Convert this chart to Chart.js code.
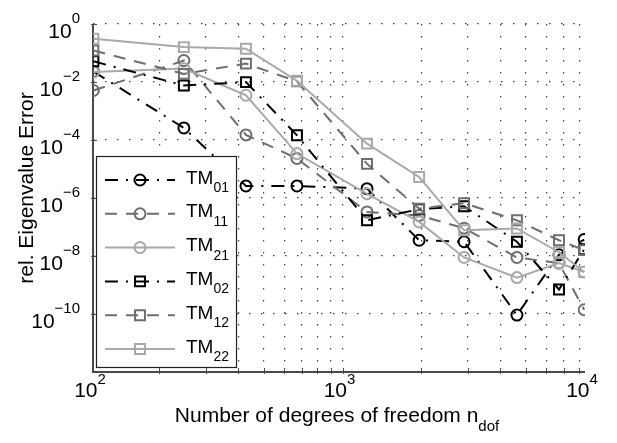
<!DOCTYPE html>
<html>
<head>
<meta charset="utf-8">
<script src="https://cdn.jsdelivr.net/npm/chart.js@4.4.1/dist/chart.umd.min.js"></script>
<style>
  html, body { margin: 0; padding: 0; background: #ffffff; }
  #wrap { width: 617px; height: 443px; position: relative; }
</style>
</head>
<body>
<div id="wrap"><canvas id="c" width="617" height="443"></canvas></div>
<script>
// Number of degrees of freedom of each refinement step
const ndof = [112, 248, 428, 670, 1240, 1960, 2910, 4630, 6700, 8360];

// Relative eigenvalue error per mode
const errTM01 = [2.3e-2, 2.6e-4, 2.6e-6, 2.6e-6, 2.1e-6, 3.5e-8, 3.1e-8, 9.2e-11, 1.1e-8, 3.7e-8];
const errTM11 = [5.1e-3, 5.5e-2, 1.5e-4, 2.3e-5, 3.3e-7, 2.5e-7, 9.1e-8, 8.9e-9, 5.7e-9, 1.4e-10];
const errTM21 = [2.2e-2, 2.9e-2, 3.5e-3, 3.4e-5, 1.4e-6, 1.5e-7, 8.9e-9, 1.8e-9, 5.7e-9, 2.8e-9];
const errTM02 = [5.2e-2, 7.6e-3, 9.9e-3, 1.45e-4, 1.7e-7, 4.1e-7, 5.2e-7, 3.1e-8, 7.0e-10, 1.7e-8];
const errTM12 = [0.122, 1.9e-2, 4.3e-2, 1.05e-2, 1.5e-5, 4.3e-7, 6.6e-7, 1.7e-7, 3.5e-8, 1.6e-8];
const errTM22 = [0.31, 0.16, 0.14, 1.1e-2, 7.5e-5, 5.3e-6, 7.7e-8, 8.9e-8, 1.35e-8, 2.8e-9];

// Mode indices shown as subscripts of "TM"
const modeIndices = ['01', '11', '21', '02', '12', '22'];

// Axis extents, grid positions and tick labels
const X_MIN = 111.6;
const X_MAX = 8420;
const xGridValues = [200, 300, 400, 500, 600, 700, 800, 900, 1000, 2000, 3000, 4000, 5000, 6000, 7000, 8000];
const xTickLabels = [{ value: X_MIN, exp: '2' }, { value: 1000, exp: '3' }, { value: X_MAX, exp: '4' }];
const Y_MIN = 1e-12;
const Y_MAX = 1;
const yGridValues = [1e0, 1e-2, 1e-4, 1e-6, 1e-8, 1e-10];
const yTickExponents = ['0', '\u22122', '\u22124', '\u22126', '\u22128', '\u221210'];

const xTitle = 'Number of degrees of freedom n';
const xTitleSub = 'dof';
const yTitle = 'rel. Eigenvalue Error';

// Styles
const BLACK = '#000000';
const DARK = '#6e6e6e';
const LIGHT = '#a9a9a9';
const DASHDOT = [13, 8, 2, 8];
const DASHED = [12, 9];
const seriesStyles = [
  { color: BLACK, dash: DASHDOT, point: 'circle' },
  { color: DARK,  dash: DASHED,  point: 'circle' },
  { color: LIGHT, dash: [],      point: 'circle' },
  { color: BLACK, dash: DASHDOT, point: 'rect' },
  { color: DARK,  dash: DASHED,  point: 'rect' },
  { color: LIGHT, dash: [],      point: 'rect' }
];
const seriesValues = [errTM01, errTM11, errTM21, errTM02, errTM12, errTM22];
const FONT = '"Liberation Sans", Arial, Helvetica, sans-serif';
const AXIS_COLOR = '#4a4a4a';

const pointRadius = s => (s.point === 'rect' ? 7 : 5.5);

const datasets = seriesValues.map((vals, i) => {
  const st = seriesStyles[i];
  return {
    label: 'TM' + modeIndices[i],
    data: ndof.map((n, k) => ({ x: n, y: vals[k] })),
    borderColor: st.color,
    borderWidth: 2,
    borderDash: st.dash,
    tension: 0,
    fill: false,
    pointStyle: st.point,
    pointRadius: pointRadius(st),
    pointBorderWidth: 2,
    pointBorderColor: st.color,
    pointBackgroundColor: 'rgba(0,0,0,0)',
    order: seriesValues.length - i
  };
});

function drawMarker(ctx, style, x, y) {
  const r = pointRadius(style);
  ctx.save();
  ctx.setLineDash([]);
  ctx.lineWidth = 2;
  ctx.strokeStyle = style.color;
  ctx.beginPath();
  if (style.point === 'rect') {
    const h = r * Math.SQRT1_2;
    ctx.rect(x - h, y - h, 2 * h, 2 * h);
  } else {
    ctx.arc(x, y, r, 0, Math.PI * 2);
  }
  ctx.stroke();
  ctx.restore();
}

// Text with a raised or lowered smaller part, e.g. 10^-4 or TM_01
function drawScripted(ctx, base, script, x, baseline, baseSize, scriptSize, shift, align) {
  ctx.font = baseSize + 'px ' + FONT;
  const wb = ctx.measureText(base).width;
  ctx.font = scriptSize + 'px ' + FONT;
  const ws = ctx.measureText(script).width;
  let x0 = x;
  if (align === 'center') x0 = x - (wb + ws) / 2;
  else if (align === 'right') x0 = x - (wb + ws);
  ctx.textAlign = 'left';
  ctx.textBaseline = 'alphabetic';
  ctx.font = baseSize + 'px ' + FONT;
  ctx.fillText(base, x0, baseline);
  ctx.font = scriptSize + 'px ' + FONT;
  ctx.fillText(script, x0 + wb, baseline + shift);
}

const decor = {
  id: 'decor',
  beforeDatasetsDraw(chart) {
    const { ctx, chartArea: a, scales: { x, y } } = chart;
    ctx.save();
    ctx.strokeStyle = AXIS_COLOR;
    ctx.lineWidth = 1;
    ctx.beginPath();
    xGridValues.forEach(v => {
      const px = Math.round(x.getPixelForValue(v)) + 0.5;
      ctx.moveTo(px, a.bottom + 2);
      ctx.lineTo(px, a.bottom - 4);
    });
    yGridValues.forEach(v => {
      const py = Math.round(y.getPixelForValue(v)) + 0.5;
      ctx.moveTo(a.left - 2, py);
      ctx.lineTo(a.left + 4, py);
    });
    ctx.stroke();
    ctx.lineWidth = 2;
    ctx.beginPath();
    ctx.moveTo(a.left, a.top);
    ctx.lineTo(a.left, a.bottom);
    ctx.lineTo(a.right, a.bottom);
    ctx.stroke();
    ctx.restore();
  },
  afterDraw(chart) {
    const { ctx, chartArea: a, scales: { x, y } } = chart;
    ctx.save();
    ctx.fillStyle = '#000000';

    // tick labels
    xTickLabels.forEach(t => {
      const px = x.getPixelForValue(t.value);
      drawScripted(ctx, '10', t.exp, px - 3, 397, 21, 15, -13, 'center');
    });
    yGridValues.forEach((v, i) => {
      const py = y.getPixelForValue(v);
      drawScripted(ctx, '10', yTickExponents[i], a.left - 13, py + 14, 21, 15, -15.5, 'right');
    });

    // axis titles
    drawScripted(ctx, xTitle, xTitleSub, (a.left + a.right) / 2 - 2, 422, 21, 15, 9, 'center');
    ctx.save();
    ctx.translate(27, 188);
    ctx.rotate(-Math.PI / 2);
    ctx.font = '21px ' + FONT;
    ctx.textAlign = 'center';
    ctx.textBaseline = 'middle';
    ctx.fillText(yTitle, 0, 0);
    ctx.restore();

    // legend
    const box = { left: 96.5, top: 156.5, right: 236.5, bottom: 367.5 };
    ctx.fillStyle = '#ffffff';
    ctx.fillRect(box.left, box.top, box.right - box.left, box.bottom - box.top);
    ctx.strokeStyle = '#222222';
    ctx.lineWidth = 1.2;
    ctx.setLineDash([]);
    ctx.strokeRect(box.left, box.top, box.right - box.left, box.bottom - box.top);
    seriesStyles.forEach((st, i) => {
      const ly = 180 + i * 33.8;
      ctx.save();
      ctx.strokeStyle = st.color;
      ctx.lineWidth = 2;
      ctx.setLineDash(st.dash);
      ctx.beginPath();
      ctx.moveTo(105, ly);
      ctx.lineTo(175, ly);
      ctx.stroke();
      ctx.restore();
      drawMarker(ctx, st, 140, ly);
      ctx.fillStyle = '#000000';
      drawScripted(ctx, 'TM', modeIndices[i], 186, ly + 3.5, 19, 14, 8.5, 'left');
    });
    ctx.restore();
  }
};

const gridStyle = {
  display: true,
  drawTicks: false,
  drawOnChartArea: true,
  color: 'rgba(30,30,30,0.85)',
  lineWidth: 1.2
};

new Chart(document.getElementById('c').getContext('2d'), {
  type: 'line',
  data: { datasets },
  options: {
    responsive: false,
    animation: false,
    devicePixelRatio: 1,
    layout: { padding: { left: 93, right: 32, top: 24, bottom: 71 } },
    plugins: { legend: { display: false }, tooltip: { enabled: false } },
    scales: {
      x: {
        type: 'logarithmic',
        position: 'bottom',
        min: X_MIN,
        max: X_MAX,
        afterBuildTicks: s => { s.ticks = xGridValues.map(v => ({ value: v })); },
        ticks: { display: false },
        grid: gridStyle,
        border: { display: false, dash: [1.5, 10.5] }
      },
      y: {
        type: 'logarithmic',
        position: 'left',
        min: Y_MIN,
        max: Y_MAX,
        afterBuildTicks: s => { s.ticks = yGridValues.map(v => ({ value: v })); },
        ticks: { display: false },
        grid: gridStyle,
        border: { display: false, dash: [1.5, 10.5] }
      }
    }
  },
  plugins: [decor]
});
</script>
</body>
</html>
